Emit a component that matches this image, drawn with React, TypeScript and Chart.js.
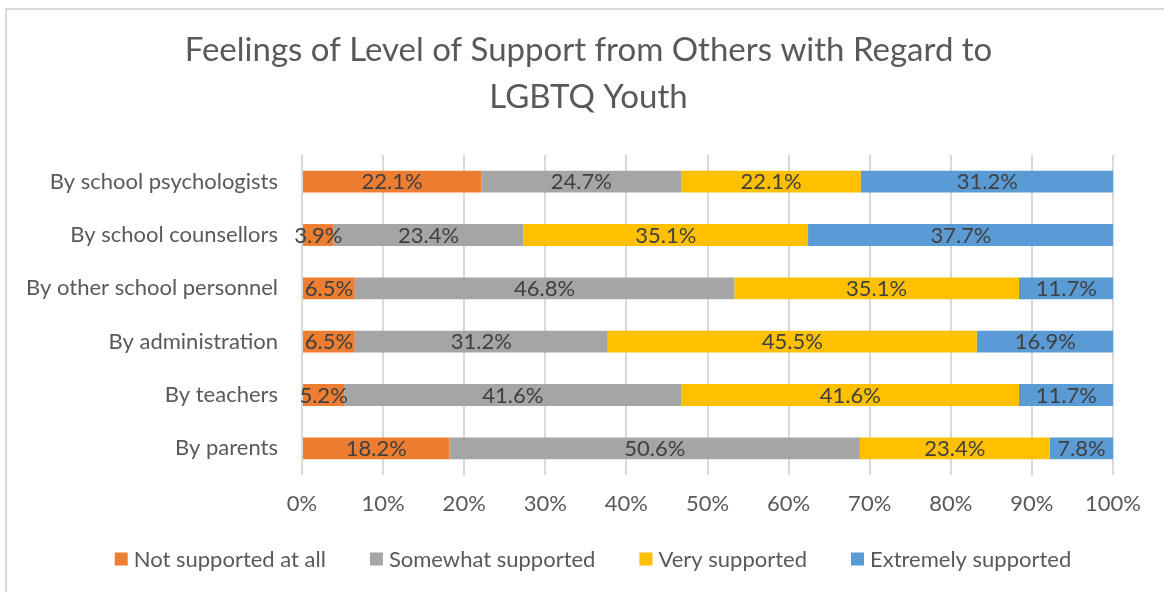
import React, { useEffect, useRef } from "react";
import { Chart, registerables } from "chart.js";

Chart.register(...registerables);

const FONT = "Lato";

const categories = [
  "By school psychologists",
  "By school counsellors",
  "By other school personnel",
  "By administration",
  "By teachers",
  "By parents",
];
const seriesNames = [
  "Not supported at all",
  "Somewhat supported",
  "Very supported",
  "Extremely supported",
];
const notSupported = [22.1, 3.9, 6.5, 6.5, 5.2, 18.2];
const somewhatSupported = [24.7, 23.4, 46.8, 31.2, 41.6, 50.6];
const verySupported = [22.1, 35.1, 35.1, 45.5, 41.6, 23.4];
const extremelySupported = [31.2, 37.7, 11.7, 16.9, 11.7, 7.8];
const seriesColors = ["#ED7D31", "#A5A5A5", "#FFC000", "#5B9BD5"];
const titleLines = [
  "Feelings of Level of Support from Others with Regard to",
  "LGBTQ Youth",
];
const xTickStep = 10;
const xMax = 100;

const dataLabelPlugin = {
  id: "dataLabels",
  afterDatasetsDraw(chart: any) {
    const ctx = chart.ctx;
    ctx.save();
    ctx.font = `22px ${FONT}`;
    ctx.fillStyle = "#404040";
    ctx.textAlign = "center";
    ctx.textBaseline = "alphabetic";
    chart.data.datasets.forEach((ds: any, i: number) => {
      const meta = chart.getDatasetMeta(i);
      meta.data.forEach((el: any, j: number) => {
        const v = ds.data[j] as number;
        const cx = (el.x + el.base) / 2;
        ctx.fillText(v.toFixed(1) + "%", cx, el.y + 7.5);
      });
    });
    ctx.restore();
  },
};

const legendPlugin = {
  id: "customLegend",
  afterDraw(chart: any) {
    const ctx = chart.ctx;
    const datasets = chart.data.datasets;
    const box = 13;
    const gapBoxText = 6;
    const gapItems = 44;
    const centerX = 593;
    const centerY = 559;
    ctx.save();
    ctx.font = `22px ${FONT}`;
    const widths = datasets.map((ds: any) => ctx.measureText(ds.label).width);
    const total =
      widths.reduce((a: number, w: number) => a + box + gapBoxText + w, 0) +
      gapItems * (datasets.length - 1);
    let x = centerX - total / 2;
    ctx.textAlign = "left";
    ctx.textBaseline = "alphabetic";
    datasets.forEach((ds: any, i: number) => {
      ctx.fillStyle = ds.backgroundColor;
      ctx.fillRect(x, centerY - box / 2, box, box);
      x += box + gapBoxText;
      ctx.fillStyle = "#595959";
      ctx.fillText(ds.label, x, centerY + 7.5);
      x += widths[i] + gapItems;
    });
    ctx.restore();
  },
};

export default function App() {
  const ref = useRef<HTMLCanvasElement | null>(null);

  useEffect(() => {
    if (!ref.current) return;
    const allSeries = [notSupported, somewhatSupported, verySupported, extremelySupported];
    const chart = new Chart(ref.current, {
      type: "bar",
      data: {
        labels: categories,
        datasets: allSeries.map((data, i) => ({
          label: seriesNames[i],
          data,
          backgroundColor: seriesColors[i],
          borderWidth: 0,
          categoryPercentage: 0.41,
          barPercentage: 1,
        })),
      },
      options: {
        indexAxis: "y",
        responsive: false,
        animation: false,
        events: [],
        layout: { padding: { left: 13, right: 0, top: 0, bottom: 71 } },
        scales: {
          x: {
            stacked: true,
            min: 0,
            max: xMax,
            grid: { color: "#d9d9d9", lineWidth: 2, drawTicks: false },
            border: { display: false },
            ticks: {
              stepSize: xTickStep,
              padding: 16,
              color: "#595959",
              font: { family: FONT, size: 22 },
              callback: (v: any) => v + "%",
            },
            afterFit(s: any) {
              s.height = 46;
            },
          },
          y: {
            stacked: true,
            grid: { display: false, drawTicks: false },
            border: { display: false },
            ticks: {
              padding: 24,
              color: "#595959",
              font: { family: FONT, size: 22 },
            },
            afterFit(s: any) {
              s.width = 289;
            },
          },
          y2: {
            type: "linear",
            position: "right",
            grid: { display: false, drawTicks: false },
            border: { display: false },
            ticks: { display: false },
            afterFit(s: any) {
              s.width = 51;
            },
          },
        },
        plugins: {
          tooltip: { enabled: false },
          legend: { display: false },
          title: {
            display: true,
            text: titleLines,
            color: "#595959",
            font: { family: FONT, size: 33, weight: "normal", lineHeight: 46.5 / 33 },
            padding: { top: 27.4, bottom: 34.6 },
          },
        },
      },
      plugins: [dataLabelPlugin, legendPlugin],
    });
    return () => chart.destroy();
  }, []);

  return (
    <div
      style={{
        position: "fixed",
        left: 0,
        top: 0,
        width: 1164,
        height: 592,
        overflow: "hidden",
        background: "#ffffff",
      }}
    >
      <div
        style={{
          position: "absolute",
          left: 5,
          top: 8,
          width: 1200,
          height: 700,
          border: "2px solid #d9d9d9",
        }}
      />
      <canvas
        ref={ref}
        width={1164}
        height={592}
        style={{ position: "absolute", left: 0, top: 0, width: 1164, height: 592 }}
      />
    </div>
  );
}
